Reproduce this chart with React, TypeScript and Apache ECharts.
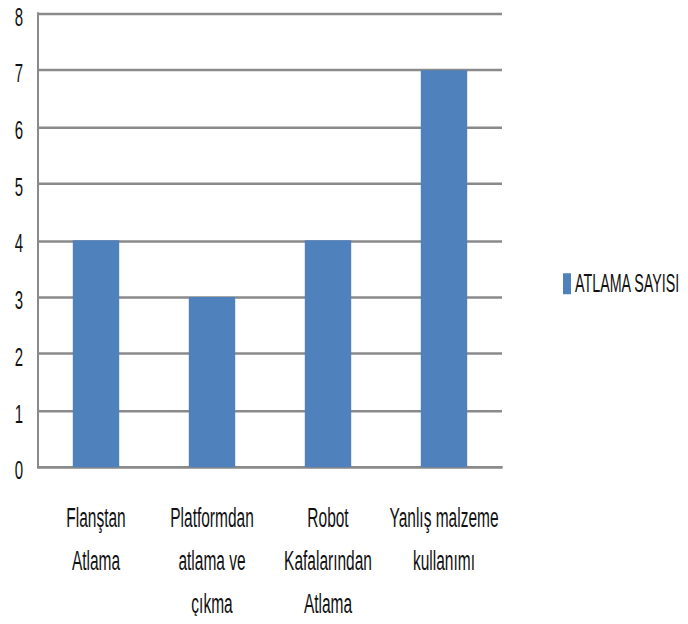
import React, { useEffect, useRef } from "react";
import * as echarts from "echarts";

const categories = [
  "Flanştan\nAtlama",
  "Platformdan\natlama ve\nçıkma",
  "Robot\nKafalarından\nAtlama",
  "Yanlış malzeme\nkullanımı",
];
const seriesName = "ATLAMA SAYISI";
const values = [4, 3, 4, 7];
const yMin = 0;
const yMax = 8;
const yStep = 1;

const FONT = "'Liberation Sans', Arial, sans-serif";
const W = 688;
const H = 624;
const SY = 1.75; // the reference is stretched vertically
const IH = H / SY;

export default function App() {
  const ref = useRef<HTMLDivElement>(null);
  useEffect(() => {
    if (!ref.current) return;
    const chart = echarts.init(ref.current, undefined, { renderer: "svg" });
    chart.setOption({
      animation: false,
      backgroundColor: "#ffffff",
      textStyle: { fontFamily: FONT },
      grid: { left: 38, right: 186, top: 13.5 / SY, bottom: IH - 468 / SY, containLabel: false },
      legend: {
        show: true,
        left: 563,
        top: 282 / SY - 6,
        padding: 0,
        icon: "rect",
        itemWidth: 8,
        itemHeight: 12,
        itemGap: 5,
        textStyle: { fontFamily: FONT, fontSize: 14.3, lineHeight: 12, color: "#111111", padding: [0, 0, 0, -1] },
        data: [seriesName],
      },
      xAxis: {
        type: "category",
        data: categories,
        axisLine: { show: true, lineStyle: { color: "#8a8a8a", width: 1.5 } },
        axisTick: { show: false },
        axisLabel: {
          interval: 0,
          margin: 16.5,
          fontFamily: FONT,
          fontSize: 15.5,
          lineHeight: 24.5,
          color: "#111111",
        },
      },
      yAxis: {
        type: "value",
        min: yMin,
        max: yMax,
        interval: yStep,
        axisLine: { show: true, lineStyle: { color: "#8a8a8a", width: 2 } },
        axisTick: { show: false },
        splitLine: { show: true, lineStyle: { color: "#8a8a8a", width: 1.5 } },
        axisLabel: {
          margin: 15,
          fontFamily: FONT,
          fontSize: 15,
          color: "#111111",
          verticalAlign: "top",
          lineHeight: 4,
        },
      },
      series: [
        {
          name: seriesName,
          type: "bar",
          data: values,
          barWidth: "40%",
          itemStyle: { color: "#4f81bd" },
        },
      ],
    });
    return () => chart.dispose();
  }, []);
  return (
    <div style={{ width: W, height: H, margin: -8, overflow: "hidden", background: "#fff" }}>
      <div
        ref={ref}
        style={{ width: W, height: IH, transform: `scaleY(${SY})`, transformOrigin: "0 0" }}
      />
    </div>
  );
}
